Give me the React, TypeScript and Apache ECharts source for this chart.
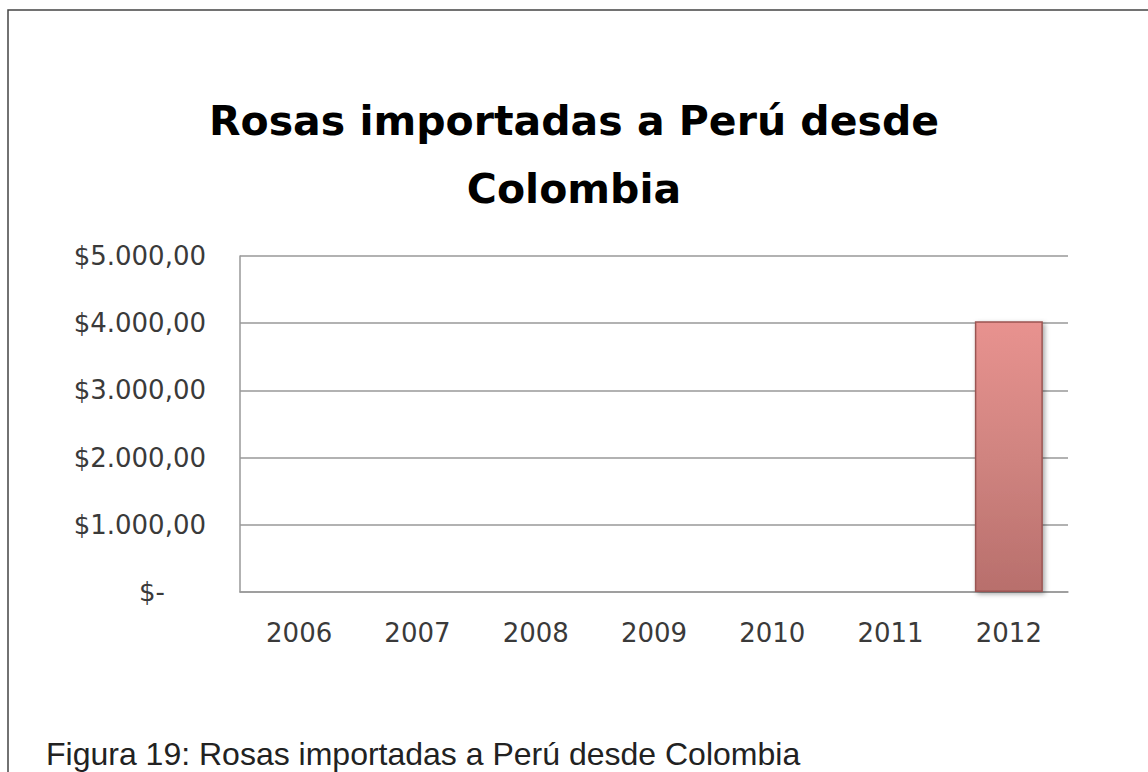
import React, { useEffect, useRef } from "react";
import * as echarts from "echarts";

const categories = ["2006", "2007", "2008", "2009", "2010", "2011", "2012"];
const values = [0, 0, 0, 0, 0, 0, 4030];
const yTicks = [0, 1000, 2000, 3000, 4000, 5000];
const titleLines = ["Rosas importadas a Perú desde", "Colombia"];
const caption = "Figura 19: Rosas importadas a Perú desde Colombia";

function fmt(v: number): string {
  if (v === 0) return "{z|$-}";
  const s = Math.round(v).toString().replace(/\B(?=(\d{3})+(?!\d))/g, ".");
  return "$" + s + ",00";
}

export default function App() {
  const ref = useRef<HTMLDivElement>(null);
  useEffect(() => {
    if (!ref.current) return;
    const chart = echarts.init(ref.current, undefined, { renderer: "svg" });
    const labelFont = "DejaVu Sans";
    chart.setOption({
      animation: false,
      backgroundColor: "#ffffff",
      title: {
        text: titleLines.join("\n"),
        left: "center",
        top: 82,
        textStyle: {
          fontFamily: labelFont,
          fontWeight: "bold",
          fontSize: 41,
          lineHeight: 68,
          color: "#000000",
        },
      },
      grid: { left: 240, right: 80, top: 256, bottom: 180 },
      xAxis: {
        type: "category",
        data: categories,
        axisLine: { show: true, lineStyle: { color: "#999999", width: 1.5 } },
        axisTick: { show: false },
        axisLabel: {
          fontFamily: labelFont,
          fontSize: 26,
          color: "#3a3a3a",
          margin: 28,
        },
      },
      yAxis: {
        type: "value",
        min: yTicks[0],
        max: yTicks[yTicks.length - 1],
        interval: 1000,
        axisLine: { show: true, lineStyle: { color: "#999999", width: 1.5 } },
        axisTick: { show: false },
        splitLine: { lineStyle: { color: "#999999", width: 1.5 } },
        axisLabel: {
          fontFamily: labelFont,
          fontSize: 26,
          color: "#3a3a3a",
          margin: 34,
          formatter: fmt,
          rich: {
            z: { fontFamily: labelFont, fontSize: 26, color: "#3a3a3a", padding: [0, 41, 0, 0] },
          },
        },
      },
      series: [
        {
          type: "bar",
          data: values,
          barWidth: "57.5%",
          itemStyle: {
            color: new echarts.graphic.LinearGradient(0, 0, 0, 1, [
              { offset: 0, color: "#e8928f" },
              { offset: 0.5, color: "#d08480" },
              { offset: 1, color: "#b86f6c" },
            ]),
            borderColor: "#9a5552",
            borderWidth: 1.5,
            shadowBlur: 5,
            shadowColor: "rgba(0,0,0,0.35)",
            shadowOffsetX: 2,
            shadowOffsetY: 2,
          },
        },
      ],
      graphic: [
        {
          type: "rect",
          shape: { x: 8, y: 10, width: 1300, height: 900 },
          style: { fill: "none", stroke: "#444444", lineWidth: 1.5 },
          silent: true,
        },
        {
          type: "text",
          x: 46,
          y: 754,
          style: {
            text: caption,
            fontFamily: "Liberation Sans",
            fontSize: 32,
            fill: "#222222",
            verticalAlign: "middle",
            align: "left",
          },
        },
      ],
    });
    return () => chart.dispose();
  }, []);
  return (
    <div
      ref={ref}
      style={{ position: "fixed", left: 0, top: 0, width: 1148, height: 772 }}
    />
  );
}
